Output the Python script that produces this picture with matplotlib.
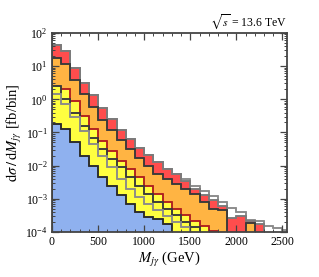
import numpy as np
import matplotlib
matplotlib.use("Agg")
import matplotlib.pyplot as plt
from matplotlib.ticker import LogLocator, MultipleLocator, NullFormatter

# bin edges (GeV), 100 GeV bins
edges = np.arange(0, 2700, 100)

# values in fb/bin (0 = empty bin)
total_gray = [43.6, 28.8, 8.9, 3.2, 1.32, 0.56, 0.26, 0.12, 0.063, 0.035,
              0.021, 0.0126, 0.0081, 0.0056, 0.004, 0.0025, 0.00174, 0.0012,
              0.00083, 0.00052, 0.00039, 0.000224, 0.000214, 0.000151,
              0.000135, 0.000115]
red = [43.6, 28.8, 8.9, 3.2, 1.32, 0.56, 0.26, 0.12, 0.063, 0.035,
       0.021, 0.0126, 0.0081, 0.0056, 0.0035, 0.002, 0.00126, 0.00095,
       0.0006, 0.00027, 0.0003, 0.00021, 0.000174, 0, 0, 0]
orange = [17, 12, 3.8, 1.48, 0.59, 0.23, 0.115, 0.058, 0.032, 0.0166,
          0.01, 0.0056, 0.004, 0.0028, 0.002, 0.0014, 0.0008, 0.0005,
          0.00047, 0, 0, 0.00019, 0, 0, 0, 0]
yellow_a = [2.0, 2.0, 0.89, 0.32, 0.13, 0.056, 0.028, 0.014, 0.008, 0.0045,
            0.0025, 0.0014, 0.0008, 0.0005, 0.00032, 0.00021, 0.00015, 0.00011,
            0, 0, 0, 0, 0, 0, 0, 0]
yellow_b = [2.6, 1.0, 0.4, 0.16, 0.07, 0.032, 0.016, 0.009, 0.0045, 0.0025,
            0.0014, 0.0008, 0.0005, 0.00032, 0.0002, 0.00014,
            0, 0, 0, 0, 0, 0, 0, 0, 0, 0]
yellow_c = [1.4, 0.7, 0.3, 0.11, 0.045, 0.02, 0.009, 0.004, 0.002, 0.0011,
            0.0007, 0.00045, 0.0003, 0.0002, 0.00014,
            0, 0, 0, 0, 0, 0, 0, 0, 0, 0, 0]
blue = [0.18, 0.13, 0.051, 0.02, 0.01, 0.0045, 0.0025, 0.00126, 0.0007, 0.0004,
        0.00028, 0.00025, 0.00018, 0, 0, 0, 0, 0, 0, 0, 0, 0, 0, 0, 0, 0]

plt.rcParams['font.family'] = ['Liberation Serif', 'DejaVu Serif']
plt.rcParams['mathtext.fontset'] = 'stix'

fig = plt.figure(figsize=(3.19, 2.77), dpi=100)
ax = fig.add_axes([0.163, 0.1625, 0.737, 0.7185])
ax.set_yscale('log')

# (values, fill colour, edge colour) drawn back to front
layers = [
    (total_gray, 'white', '#8a8a8a'),
    (red, '#ff4d4d', '#7a7a7a'),
    (orange, '#ffb443', '#3a3a3a'),
    (yellow_a, '#ffff40', '#b02020'),
    (yellow_b, '#ffff40', '#3a3a3a'),
    (yellow_c, '#ffff40', '#8a8a8a'),
    (blue, '#8fb1ef', '#2a2a2a'),
]
for vals, fc, ec in layers:
    v = np.where(np.array(vals) > 0, vals, 1e-7)
    ax.stairs(v, edges, baseline=1e-7, fill=True, facecolor=fc,
              edgecolor=ec, linewidth=1.1)
    ax.stairs(v, edges, baseline=1e-7, fill=False, color=ec, linewidth=1.1)

ax.set_xlim(0, 2550)
ax.set_ylim(1e-4, 1e2)

ax.xaxis.set_major_locator(MultipleLocator(500))
ax.xaxis.set_minor_locator(MultipleLocator(100))
ax.yaxis.set_major_locator(LogLocator(base=10, numticks=10))
ax.yaxis.set_minor_locator(LogLocator(base=10, subs=np.arange(2, 10), numticks=20))
ax.yaxis.set_minor_formatter(NullFormatter())

ax.tick_params(which='both', direction='in', top=True, right=True,
               color='#444444', labelsize=8.5, pad=3)
ax.tick_params(which='major', length=5, width=0.9)
ax.tick_params(which='minor', length=2.5, width=0.7)
for s in ax.spines.values():
    s.set_linewidth(1.3)
    s.set_color('#444444')

ax.set_xlabel(r'$M_{j\gamma}$ (GeV)', fontsize=10.5, labelpad=1)
ax.set_ylabel(r'$\mathrm{d}\sigma\,/\,\mathrm{d}M_{j\gamma}$ [fb/bin]',
              fontsize=10.5, labelpad=1)
ax.text(1.0, 1.01, r'$\sqrt{s}$ = 13.6 TeV', transform=ax.transAxes,
        ha='right', va='bottom', fontsize=8.5)

fig.savefig('out.png', dpi=100)
